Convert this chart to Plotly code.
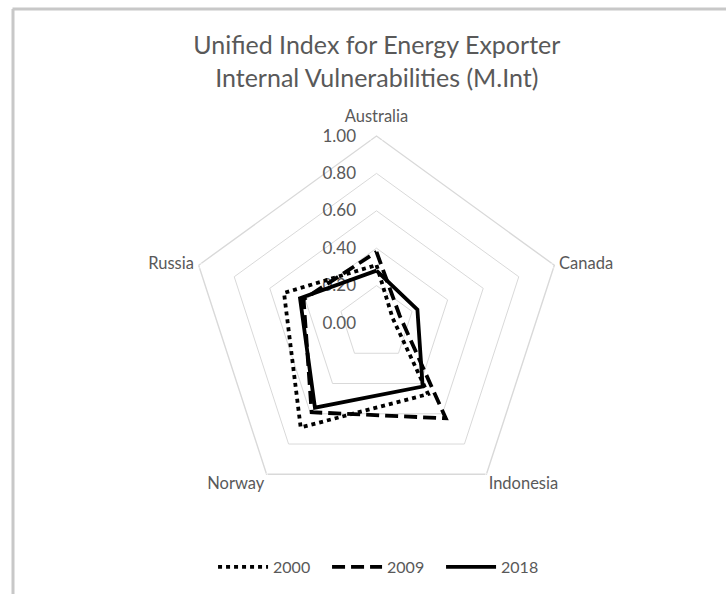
import plotly.graph_objects as go

categories = ["Australia", "Canada", "Indonesia", "Norway", "Russia"]
years = ["2000", "2009", "2018"]
v2000 = [0.31, 0.09, 0.47, 0.69, 0.52]
v2009 = [0.38, 0.13, 0.63, 0.59, 0.41]
v2018 = [0.28, 0.23, 0.42, 0.56, 0.43]
radial_ticks = [0.0, 0.2, 0.4, 0.6, 0.8, 1.0]

series = [v2000, v2009, v2018]
dashes = ["4px,4px", "13px,6px", "solid"]

# label placement styling for the category names around the outer ring
cat_textpos = ["top center", "middle right", "bottom right", "bottom left", "middle left"]
cat_pad = [14, 6, 2, 2, 6]

W, H = 726, 594
cx, cy, R = 376.5, 323, 187
FONT = "Lato, 'Open Sans', sans-serif"
GRAY = "#595959"

fig = go.Figure()

# category labels at the outer ring (r = top of the radial range)
fig.add_trace(go.Scatterpolar(
    r=[radial_ticks[-1]] * len(categories),
    theta=categories,
    mode="markers+text",
    text=categories,
    textposition=cat_textpos,
    marker=dict(size=cat_pad, color="rgba(0,0,0,0)"),
    textfont=dict(size=16.5, color=GRAY, family=FONT),
    cliponaxis=False,
    showlegend=False,
    hoverinfo="skip",
))

for name, vals, dash in zip(years, series, dashes):
    fig.add_trace(go.Scatterpolar(
        r=vals + vals[:1],
        theta=categories + categories[:1],
        mode="lines",
        name=name,
        line=dict(color="black", width=3.8, dash=dash),
    ))

fig.update_layout(
    width=W, height=H,
    margin=dict(l=0, r=0, t=0, b=0),
    paper_bgcolor="white",
    plot_bgcolor="white",
    font=dict(family=FONT, color=GRAY),
    title=dict(
        text="Unified Index for Energy Exporter<br>Internal Vulnerabilities (M.Int)",
        x=0.519, xanchor="center", y=1 - 54 / H, yanchor="middle",
        font=dict(size=25, color=GRAY, family=FONT),
    ),
    polar=dict(
        domain=dict(x=[(cx - R) / W, (cx + R) / W], y=[1 - (cy + R) / H, 1 - (cy - R) / H]),
        bgcolor="white",
        gridshape="linear",
        radialaxis=dict(
            range=[0, 1], tickvals=radial_ticks, tickformat=".2f",
            angle=90, tickangle=90, side="counterclockwise",
            showline=False, ticks="outside", ticklen=14, tickcolor="rgba(0,0,0,0)",
            gridcolor="#d9d9d9", gridwidth=1.4, layer="below traces",
            tickfont=dict(size=17, color=GRAY, family=FONT),
        ),
        angularaxis=dict(
            rotation=90, direction="clockwise", categoryarray=categories, categoryorder="array",
            showgrid=False, showline=True, linecolor="#d9d9d9", linewidth=1.4,
            ticks="", showticklabels=False, layer="below traces",
        ),
    ),
    legend=dict(
        orientation="h", x=0.529, xanchor="center", y=1 - 567 / H, yanchor="middle",
        font=dict(size=16, color=GRAY), itemwidth=50, entrywidth=49,
    ),
    shapes=[
        dict(type="line", xref="paper", yref="paper", x0=12.5 / W, x1=1, y0=1 - 9 / H, y1=1 - 9 / H,
             line=dict(color="#c8c8c8", width=3)),
        dict(type="line", xref="paper", yref="paper", x0=13 / W, x1=13 / W, y0=0, y1=1 - 9 / H,
             line=dict(color="#c8c8c8", width=3)),
    ],
)

fig.write_html(
    "out.html",
    config={"displayModeBar": False},
    post_script="document.body.style.margin='0';document.body.style.overflow='hidden';",
)
